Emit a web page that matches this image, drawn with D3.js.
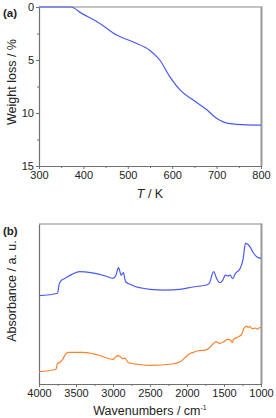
<!DOCTYPE html>
<html>
<head>
<meta charset="utf-8">
<script src="https://cdn.jsdelivr.net/npm/d3@7.9.0/dist/d3.min.js"></script>
<style>
  body { margin: 0; background: #fff; }
  svg { display: block; font-family: "Liberation Sans", Arial, sans-serif; }
</style>
</head>
<body>
<svg width="276" height="418"></svg>
<script>
// (a) TGA curve
const tgaTemp = [300, 372, 396, 437, 475, 512, 550, 572, 595, 618, 648, 678, 700, 723, 760, 800];
const tgaLoss = [0, 0, 0.6, 1.55, 2.65, 3.3, 4.1, 5.0, 6.6, 7.85, 8.8, 9.7, 10.5, 10.95, 11.1, 11.15];
const tempTicks = [300, 400, 500, 600, 700, 800];
const lossTicks = [0, 5, 10, 15];

// (b) IR spectra, arbitrary units
const irBlueWave = [4000, 3750, 3730, 3700, 3650, 3550, 3450, 3300, 3100, 3000, 2960, 2925, 2890, 2860, 2830, 2750, 2500, 2300, 2100, 1900, 1750, 1700, 1640, 1600, 1560, 1520, 1480, 1450, 1420, 1380, 1350, 1280, 1240, 1210, 1180, 1150, 1100, 1050, 1000];
const irBlueAbs = [55.2, 56.7, 61.9, 64.6, 66, 68.7, 70.2, 69.6, 67.5, 66, 68, 72.7, 68, 69.6, 63.9, 61.9, 59.2, 58.7, 59.2, 60.8, 61.7, 62.9, 70.2, 66, 63.3, 64.6, 68.1, 67.5, 68, 65.8, 68.7, 72.3, 78.5, 87.9, 87.3, 85.8, 81.7, 79.2, 78.5];
const irOrangeWave = [4000, 3770, 3750, 3720, 3680, 3640, 3600, 3400, 3200, 3000, 2940, 2900, 2870, 2840, 2790, 2700, 2500, 2200, 2100, 2050, 2000, 1950, 1900, 1850, 1750, 1700, 1650, 1610, 1560, 1500, 1450, 1410, 1390, 1370, 1300, 1260, 1230, 1200, 1170, 1150, 1120, 1080, 1050, 1020, 1000];
const irOrangeAbs = [7.7, 9.2, 12.9, 13.5, 15.4, 18.7, 19.8, 19.8, 18.1, 15.4, 17.7, 17.1, 15.8, 16.2, 13.3, 12.5, 11.7, 12.5, 13.7, 15.4, 17.7, 19.2, 20, 20.8, 21.2, 22.5, 25, 26.5, 25.4, 26.5, 27.9, 27.5, 25.8, 27.9, 29.6, 31.2, 34.8, 36.2, 35.4, 36, 34.6, 35, 34.2, 35.2, 35.4];
const waveTicks = [4000, 3500, 3000, 2500, 2000, 1500, 1000];

const svg = d3.select("svg");
const L = 39, R = 261;
const axisCol = "#707070";

function frame(top, bottom) {
  svg.append("line").attr("x1", L).attr("x2", R).attr("y1", top).attr("y2", top)
    .attr("stroke", "#888").attr("stroke-width", 1.2);
  svg.append("line").attr("x1", R + 0.5).attr("x2", R + 0.5).attr("y1", top - 0.6).attr("y2", bottom)
    .attr("stroke", "#999").attr("stroke-width", 2);
}

function styleAxis(g) {
  g.select(".domain").attr("stroke", axisCol).attr("stroke-width", 1.2);
  g.selectAll(".tick line").attr("stroke", axisCol);
  g.selectAll("text").attr("fill", "#222").attr("font-size", 11)
    .attr("font-family", "Liberation Sans, Arial, sans-serif");
}

// ---------- panel (a)
const aTop = 7, aBot = 166;
const xa = d3.scaleLinear().domain([300, 800]).range([L, R]);
const ya = d3.scaleLinear().domain([0, 15]).range([aTop, aBot]);

frame(aTop, aBot);

svg.append("g").attr("transform", `translate(0,${aBot})`)
  .call(d3.axisBottom(xa).tickValues(d3.range(350, 800, 100)).tickSize(2).tickFormat(""))
  .call(g => g.select(".domain").remove())
  .call(styleAxis);
svg.append("g").attr("transform", `translate(0,${aBot})`)
  .call(d3.axisBottom(xa).tickValues(tempTicks).tickSize(3).tickSizeOuter(0).tickPadding(2).tickFormat(d3.format("d")))
  .call(styleAxis);

svg.append("g").attr("transform", `translate(${L},0)`)
  .call(d3.axisLeft(ya).tickValues([2.5, 7.5, 12.5]).tickSize(2).tickFormat(""))
  .call(g => g.select(".domain").remove())
  .call(styleAxis);
svg.append("g").attr("transform", `translate(${L},0)`)
  .call(d3.axisLeft(ya).tickValues(lossTicks).tickSize(3).tickSizeOuter(0).tickPadding(2).tickFormat(d3.format("d")))
  .call(styleAxis);

const tga = tgaTemp.map((t, i) => [t, tgaLoss[i]]);
svg.append("path").datum(tga)
  .attr("fill", "none").attr("stroke", "#4a5af5").attr("stroke-width", 1.2)
  .attr("d", d3.line().x(d => xa(d[0])).y(d => ya(d[1])).curve(d3.curveMonotoneX));

svg.append("text").attr("x", 3).attr("y", 17).attr("font-weight", "bold").attr("font-size", 11.5)
  .attr("fill", "#222").text("(a)");
svg.append("text").attr("transform", "translate(15.5,82) rotate(-90)").attr("text-anchor", "middle")
  .attr("font-size", 12.5).attr("fill", "#222").text("Weight loss / %");
const tl = svg.append("text").attr("x", 150).attr("y", 198).attr("text-anchor", "middle")
  .attr("font-size", 12.5).attr("fill", "#222");
tl.append("tspan").attr("font-style", "italic").text("T");
tl.append("tspan").text(" / K");

// ---------- panel (b)
const bTop = 224, bBot = 384;
const xb = d3.scaleLinear().domain([4000, 1000]).range([L, R]);
const yb = d3.scaleLinear().domain([0, 100]).range([bBot, bTop]);

frame(bTop, bBot);

svg.append("g").attr("transform", `translate(0,${bBot})`)
  .call(d3.axisBottom(xb).tickValues(d3.range(3750, 1000, -500)).tickSize(2).tickFormat(""))
  .call(g => g.select(".domain").remove())
  .call(styleAxis);
svg.append("g").attr("transform", `translate(0,${bBot})`)
  .call(d3.axisBottom(xb).tickValues(waveTicks).tickSize(3).tickSizeOuter(0).tickPadding(2).tickFormat(d3.format("d")))
  .call(styleAxis);
svg.append("g").attr("transform", `translate(${L},0)`)
  .call(d3.axisLeft(yb).tickValues([]).tickSizeOuter(0))
  .call(styleAxis);

const lineB = d3.line().x(d => xb(d[0])).y(d => yb(d[1])).curve(d3.curveMonotoneX);
svg.append("path").datum(irBlueWave.map((w, i) => [w, irBlueAbs[i]]))
  .attr("fill", "none").attr("stroke", "#4a5af5").attr("stroke-width", 1.2).attr("d", lineB);
svg.append("path").datum(irOrangeWave.map((w, i) => [w, irOrangeAbs[i]]))
  .attr("fill", "none").attr("stroke", "#ff7f2a").attr("stroke-width", 1.2).attr("d", lineB);

svg.append("text").attr("x", 3).attr("y", 235).attr("font-weight", "bold").attr("font-size", 11.5)
  .attr("fill", "#222").text("(b)");
svg.append("text").attr("transform", "translate(16,291) rotate(-90)").attr("text-anchor", "middle")
  .attr("font-size", 12.5).attr("fill", "#222").text("Absorbance / a. u.");
const wl = svg.append("text").attr("x", 150).attr("y", 415).attr("text-anchor", "middle")
  .attr("font-size", 12.5).attr("fill", "#222");
wl.append("tspan").text("Wavenumbers / cm");
wl.append("tspan").attr("font-size", 7).attr("dy", -5).text("-1");
</script>
</body>
</html>
